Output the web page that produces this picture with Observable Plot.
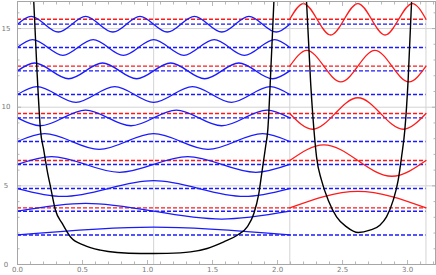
<!DOCTYPE html>
<html><head><meta charset="utf-8">
<script src="https://cdn.jsdelivr.net/npm/d3@7"></script>
<script src="https://cdn.jsdelivr.net/npm/@observablehq/plot@0.6"></script>
<style>body{margin:0;background:#fff}</style>
</head><body><div id="chart"></div>
<script>
// ---- data ----
const blueLevels = [1.88, 3.39, 4.83, 6.36, 7.82, 9.32, 10.81, 12.31, 13.80, 15.28];
const redLevels = [3.60, 6.61, 9.60, 12.61, 15.59];

// key points (zeros and extrema) of the blue waves, x positions
const blueX = [
  [0, 1.047, 2.094],
  [0, 0.524, 1.047, 1.571, 2.094],
  [0, 0.349, 0.698, 1.047, 1.396, 1.745, 2.094],
  [0, 0.262, 0.524, 0.785, 1.047, 1.309, 1.571, 1.833, 2.094],
  [0, 0.209, 0.419, 0.628, 0.838, 1.047, 1.257, 1.466, 1.676, 1.885, 2.094],
  [0, 0.175, 0.349, 0.524, 0.698, 0.873, 1.047, 1.222, 1.396, 1.571, 1.745, 1.920, 2.094],
  [0, 0.150, 0.299, 0.449, 0.598, 0.748, 0.898, 1.047, 1.197, 1.346, 1.496, 1.646, 1.795, 1.945, 2.094],
  [0, 0.131, 0.262, 0.393, 0.524, 0.654, 0.785, 0.916, 1.047, 1.178, 1.309, 1.440, 1.571, 1.702, 1.833, 1.963, 2.094],
  [0, 0.116, 0.233, 0.349, 0.465, 0.582, 0.698, 0.814, 0.931, 1.047, 1.164, 1.280, 1.396, 1.513, 1.629, 1.745, 1.862, 1.978, 2.094],
  [0, 0.105, 0.209, 0.314, 0.419, 0.524, 0.628, 0.733, 0.838, 0.942, 1.047, 1.152, 1.257, 1.361, 1.466, 1.571, 1.676, 1.780, 1.885, 1.990, 2.094]
];
// displacement from the level at those points
const blueD = [
  [0, .5, 0],
  [0, .5, 0, -.5, 0],
  [0, -.5, 0, .5, 0, -.5, 0],
  [0, .5, 0, -.5, 0, .5, 0, -.5, 0],
  [0, .5, 0, -.5, 0, .5, 0, -.5, 0, .5, 0],
  [0, -.5, 0, .5, 0, -.5, 0, .5, 0, -.5, 0, .5, 0],
  [0, .5, 0, -.5, 0, .5, 0, -.5, 0, .5, 0, -.5, 0, .5, 0],
  [0, .5, 0, -.5, 0, .5, 0, -.5, 0, .5, 0, -.5, 0, .5, 0, -.5, 0],
  [0, .5, 0, -.5, 0, .5, 0, -.5, 0, .5, 0, -.5, 0, .5, 0, -.5, 0, .5, 0],
  [0, .5, 0, -.5, 0, .5, 0, -.5, 0, .5, 0, -.5, 0, .5, 0, -.5, 0, .5, 0, -.5, 0]
];
const redX = [
  [2.094, 2.618, 3.142],
  [2.094, 2.356, 2.618, 2.880, 3.142],
  [2.094, 2.269, 2.443, 2.618, 2.793, 2.967, 3.142],
  [2.094, 2.225, 2.356, 2.487, 2.618, 2.749, 2.880, 3.011, 3.142],
  [2.094, 2.199, 2.304, 2.409, 2.513, 2.618, 2.723, 2.827, 2.932, 3.037, 3.142]
];
const redD = [
  [0, 1.05, 0],
  [0, 1, 0, -1, 0],
  [0, -1, 0, 1, 0, -1, 0],
  [0, 1, 0, -1, 0, 1, 0, -1, 0],
  [0, 1, 0, -1, 0, 1, 0, -1, 0, 1, 0]
];
// potential curves
const well1X = [0.125, 0.150, 0.177, 0.202, 0.228, 0.254, 0.292, 0.344, 0.408, 0.510, 0.638, 0.767, 0.946, 1.047, 1.150, 1.331, 1.459, 1.587, 1.690, 1.767, 1.818, 1.856, 1.882, 1.908, 1.925, 1.948, 1.972];
const well1Y = [16.72, 12.3, 8.53, 7.27, 5.99, 4.93, 3.45, 2.61, 1.75, 1.23, 0.91, 0.76, 0.70, 0.70, 0.71, 0.80, 1.02, 1.44, 1.86, 2.39, 3.24, 4.51, 5.99, 7.48, 8.54, 12.3, 16.72];
const well2X = [2.223, 2.255, 2.287, 2.300, 2.338, 2.390, 2.454, 2.531, 2.621, 2.710, 2.787, 2.838, 2.890, 2.928, 2.954, 2.979, 3.005, 3.031];
const well2Y = [16.72, 11.5, 7.90, 6.84, 5.36, 4.09, 3.03, 2.39, 2.03, 2.18, 2.50, 3.03, 4.09, 5.36, 6.84, 8.54, 11.8, 16.72];

const levelSpan = [0, 3.1416];
const gridXs = [1.0472, 2.0944, 3.1416];
const gridYs = [5, 10, 15];
const xMajor = [0, 0.5, 1.0, 1.5, 2.0, 2.5, 3.0];
const xMinor = [0.1,0.2,0.3,0.4,0.6,0.7,0.8,0.9,1.1,1.2,1.3,1.4,1.6,1.7,1.8,1.9,2.1,2.2,2.3,2.4,2.6,2.7,2.8,2.9,3.1,3.2];
const yMajor = [0, 5, 10, 15];
const yMinor = [1,2,3,4,6,7,8,9,11,12,13,14,16];

// ---- tables ----
const waveRows = (xs, ds, levels) => xs.flatMap((row, i) => row.map((x, j) => ({x, y: levels[i] + ds[i][j], k: i})));
const blueWaves = waveRows(blueX, blueD, blueLevels);
const redWaves = waveRows(redX, redD, redLevels);
const well1 = well1X.map((x, i) => ({x, y: well1Y[i]}));
const well2 = well2X.map((x, i) => ({x, y: well2Y[i]}));

const frameCol = "#a6a6a6";
const blue = "#1a1aff", red = "#ff1a1a";
const tickAxes = (anchor, vals, size, ax) => ax(vals, {anchor, tickSize: -size, tickFormat: () => "", stroke: frameCol, strokeWidth: 0.8, label: null});

const chart = Plot.plot({
  width: 436, height: 275,
  marginLeft: 17, marginRight: 1, marginTop: 1, marginBottom: 11,
  x: {domain: [0, 3.215], label: null},
  y: {domain: [0, 16.72], label: null},
  style: {fontFamily: "DejaVu Sans", fontSize: "7px", color: "#777", background: "#fff"},
  marks: [
    Plot.ruleX(gridXs, {stroke: "#d3d3d3", strokeWidth: 1}),
    Plot.ruleY(gridYs, {stroke: "#d3d3d3", strokeWidth: 1}),
    Plot.ruleY(blueLevels, {x1: levelSpan[0], x2: levelSpan[1], stroke: blue, strokeWidth: 1.4, strokeDasharray: "4,2"}),
    Plot.ruleY(redLevels, {x1: levelSpan[0], x2: levelSpan[1], stroke: red, strokeWidth: 1.4, strokeDasharray: "4,2"}),
    Plot.line(blueWaves, {x: "x", y: "y", z: "k", curve: "natural", stroke: blue, strokeWidth: 1.3}),
    Plot.line(redWaves, {x: "x", y: "y", z: "k", curve: "natural", stroke: red, strokeWidth: 1.3}),
    Plot.line(well1, {x: "x", y: "y", curve: "monotone-x", stroke: "#000", strokeWidth: 1.4, clip: true}),
    Plot.line(well2, {x: "x", y: "y", curve: "monotone-x", stroke: "#000", strokeWidth: 1.4, clip: true}),
    Plot.frame({stroke: frameCol, strokeWidth: 1}),
    tickAxes("bottom", xMajor, 4, Plot.axisX),
    tickAxes("bottom", xMinor, 2.5, Plot.axisX),
    tickAxes("top", xMajor, 4, Plot.axisX),
    tickAxes("top", xMinor, 2.5, Plot.axisX),
    tickAxes("left", yMajor, 4, Plot.axisY),
    tickAxes("left", yMinor, 2.5, Plot.axisY),
    tickAxes("right", yMajor, 4, Plot.axisY),
    tickAxes("right", yMinor, 2.5, Plot.axisY),
    Plot.axisX(xMajor, {anchor: "bottom", tickSize: 0, tickPadding: 3, tickFormat: d3.format(".1f"), fill: "#777", label: null}),
    Plot.axisY(yMajor, {anchor: "left", tickSize: 0, tickPadding: 11.5, textAnchor: "middle", tickFormat: d3.format("d"), fill: "#777", label: null})
  ]
});
document.getElementById("chart").appendChild(chart);
</script>
</body></html>
